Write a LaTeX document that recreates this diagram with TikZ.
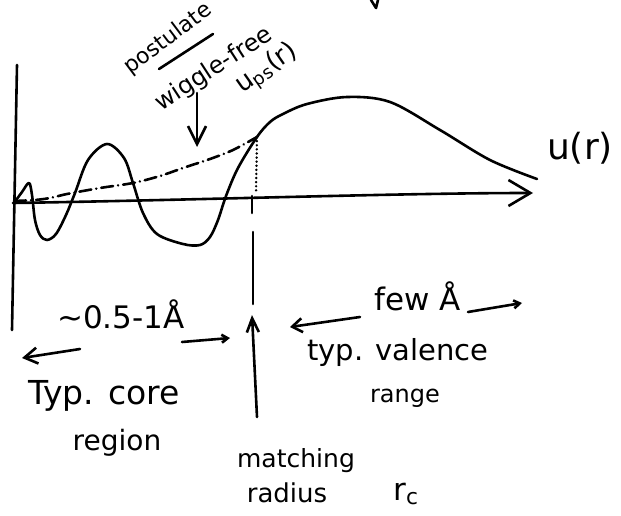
\documentclass[tikz,border=0pt]{standalone}
\usepackage{fontspec}
\setmainfont{DejaVu Sans}
\usetikzlibrary{arrows.meta}
\begin{document}
\begin{tikzpicture}[x=1pt,y=-1pt,line width=2.6pt,line cap=round,line join=round,
  hw/.style={inner sep=0pt,font=\fontsize{#1}{#1}\selectfont},
  dashdot/.style={dash pattern=on 12pt off 5pt on 0.1pt off 5pt},
  dotline/.style={dash pattern=on 0.1pt off 4pt},
  barb/.style 2 args={-{Straight Barb[length=#1,width=#2]}}]
\useasboundingbox (0,0) rectangle (621,516);
% axes
\coordinate (ytop) at (17,65);
\coordinate (ybot) at (12,330);
\coordinate (origin) at (13,203);
\coordinate (xend) at (533,193);
\draw (ytop) -- (ybot);
\draw[barb={22pt}{26pt}] (origin) .. controls (200,200) and (400,193) .. (xend);
% cut-off mark at top
\draw (371,0) -- (376,8) -- (378,0);
% wave function u(r)
\draw plot[smooth,tension=0.55] coordinates {(14,203) (22,192) (29,183) (32,195) (35,220) (40,235) (47,240) (56,234) (66,215) (75,193) (88,160) (107,144) (124,158) (133,183) (143,213) (157,234) (183,244) (200,245) (210,237) (218,220) (226,196) (238,168) (257,137) (270,122) (283,114) (307,104) (347,97) (390,102) (440,130) (490,160) (537,179)};
% pseudo wave function
\coordinate (match) at (257,137);
\draw[dashdot] plot[smooth,tension=0.5] coordinates {(14,201) (35,200) (50,198) (67,194) (100,188) (133,183) (160,176) (183,168) (210,159) (233,150) (257,137)};
\draw[dotline] (match) -- (256,193);
% tick and matching line
\coordinate (tick1) at (252,196);
\coordinate (tick2) at (252,213);
\draw (tick1) -- (tick2);
\coordinate (rl1) at (253,232);
\coordinate (rl2) at (253,304);
\draw (rl1) -- (rl2);
\coordinate (ma1) at (257,417);
\coordinate (ma2) at (252,315);
\draw[barb={14pt}{12pt}] (ma1) -- (ma2);
% labels upper
\node[hw=22,rotate=37] (postulate) at (168,39) {postulate};
\coordinate (ul1) at (159,69);
\coordinate (ul2) at (213,34);
\draw (ul1) -- (ul2);
\node[hw=24,rotate=33] (wiggle) at (214,69) {wiggle-free};
\node[hw=26,rotate=35] (ups) at (267,69) {u\textsubscript{ps}(r)};
\coordinate (wa1) at (197,93);
\coordinate (wa2) at (197,147);
\draw[barb={18pt}{18pt}] (wa1) -- (wa2);
\node[hw=36] (ur) at (580,148) {u(r)};
% core region
\node[hw=31] (corelen) at (121,314) {\textasciitilde 0.5-1Å};
\coordinate (cl1) at (80,349);
\coordinate (cl2) at (22,358);
\draw[barb={13pt}{16pt}] (cl1) -- (cl2);
\coordinate (cr1) at (182,342);
\coordinate (cr2) at (230,338);
\draw[barb={6pt}{8pt}] (cr1) -- (cr2);
\node[hw=33] (typcore) at (104,396) {Typ. core};
\node[hw=28] (region) at (117,443) {region};
% matching radius
\node[hw=25] (matching) at (296,461) {matching};
\node[hw=26] (radius) at (287,493) {radius};
\node[hw=31] (rc) at (406,494) {r\textsubscript{c}};
% valence
\node[hw=31] (few) at (418,296) {few Å};
\coordinate (vl1) at (360,317);
\coordinate (vl2) at (290,327);
\draw[barb={10pt}{14pt}] (vl1) -- (vl2);
\coordinate (vr1) at (468,312);
\coordinate (vr2) at (522,303);
\draw[barb={6pt}{8pt}] (vr1) -- (vr2);
\node[hw=29] (typval) at (398,352) {typ. valence};
\node[hw=24] (range) at (405,398) {range};
\end{tikzpicture}
\end{document}
